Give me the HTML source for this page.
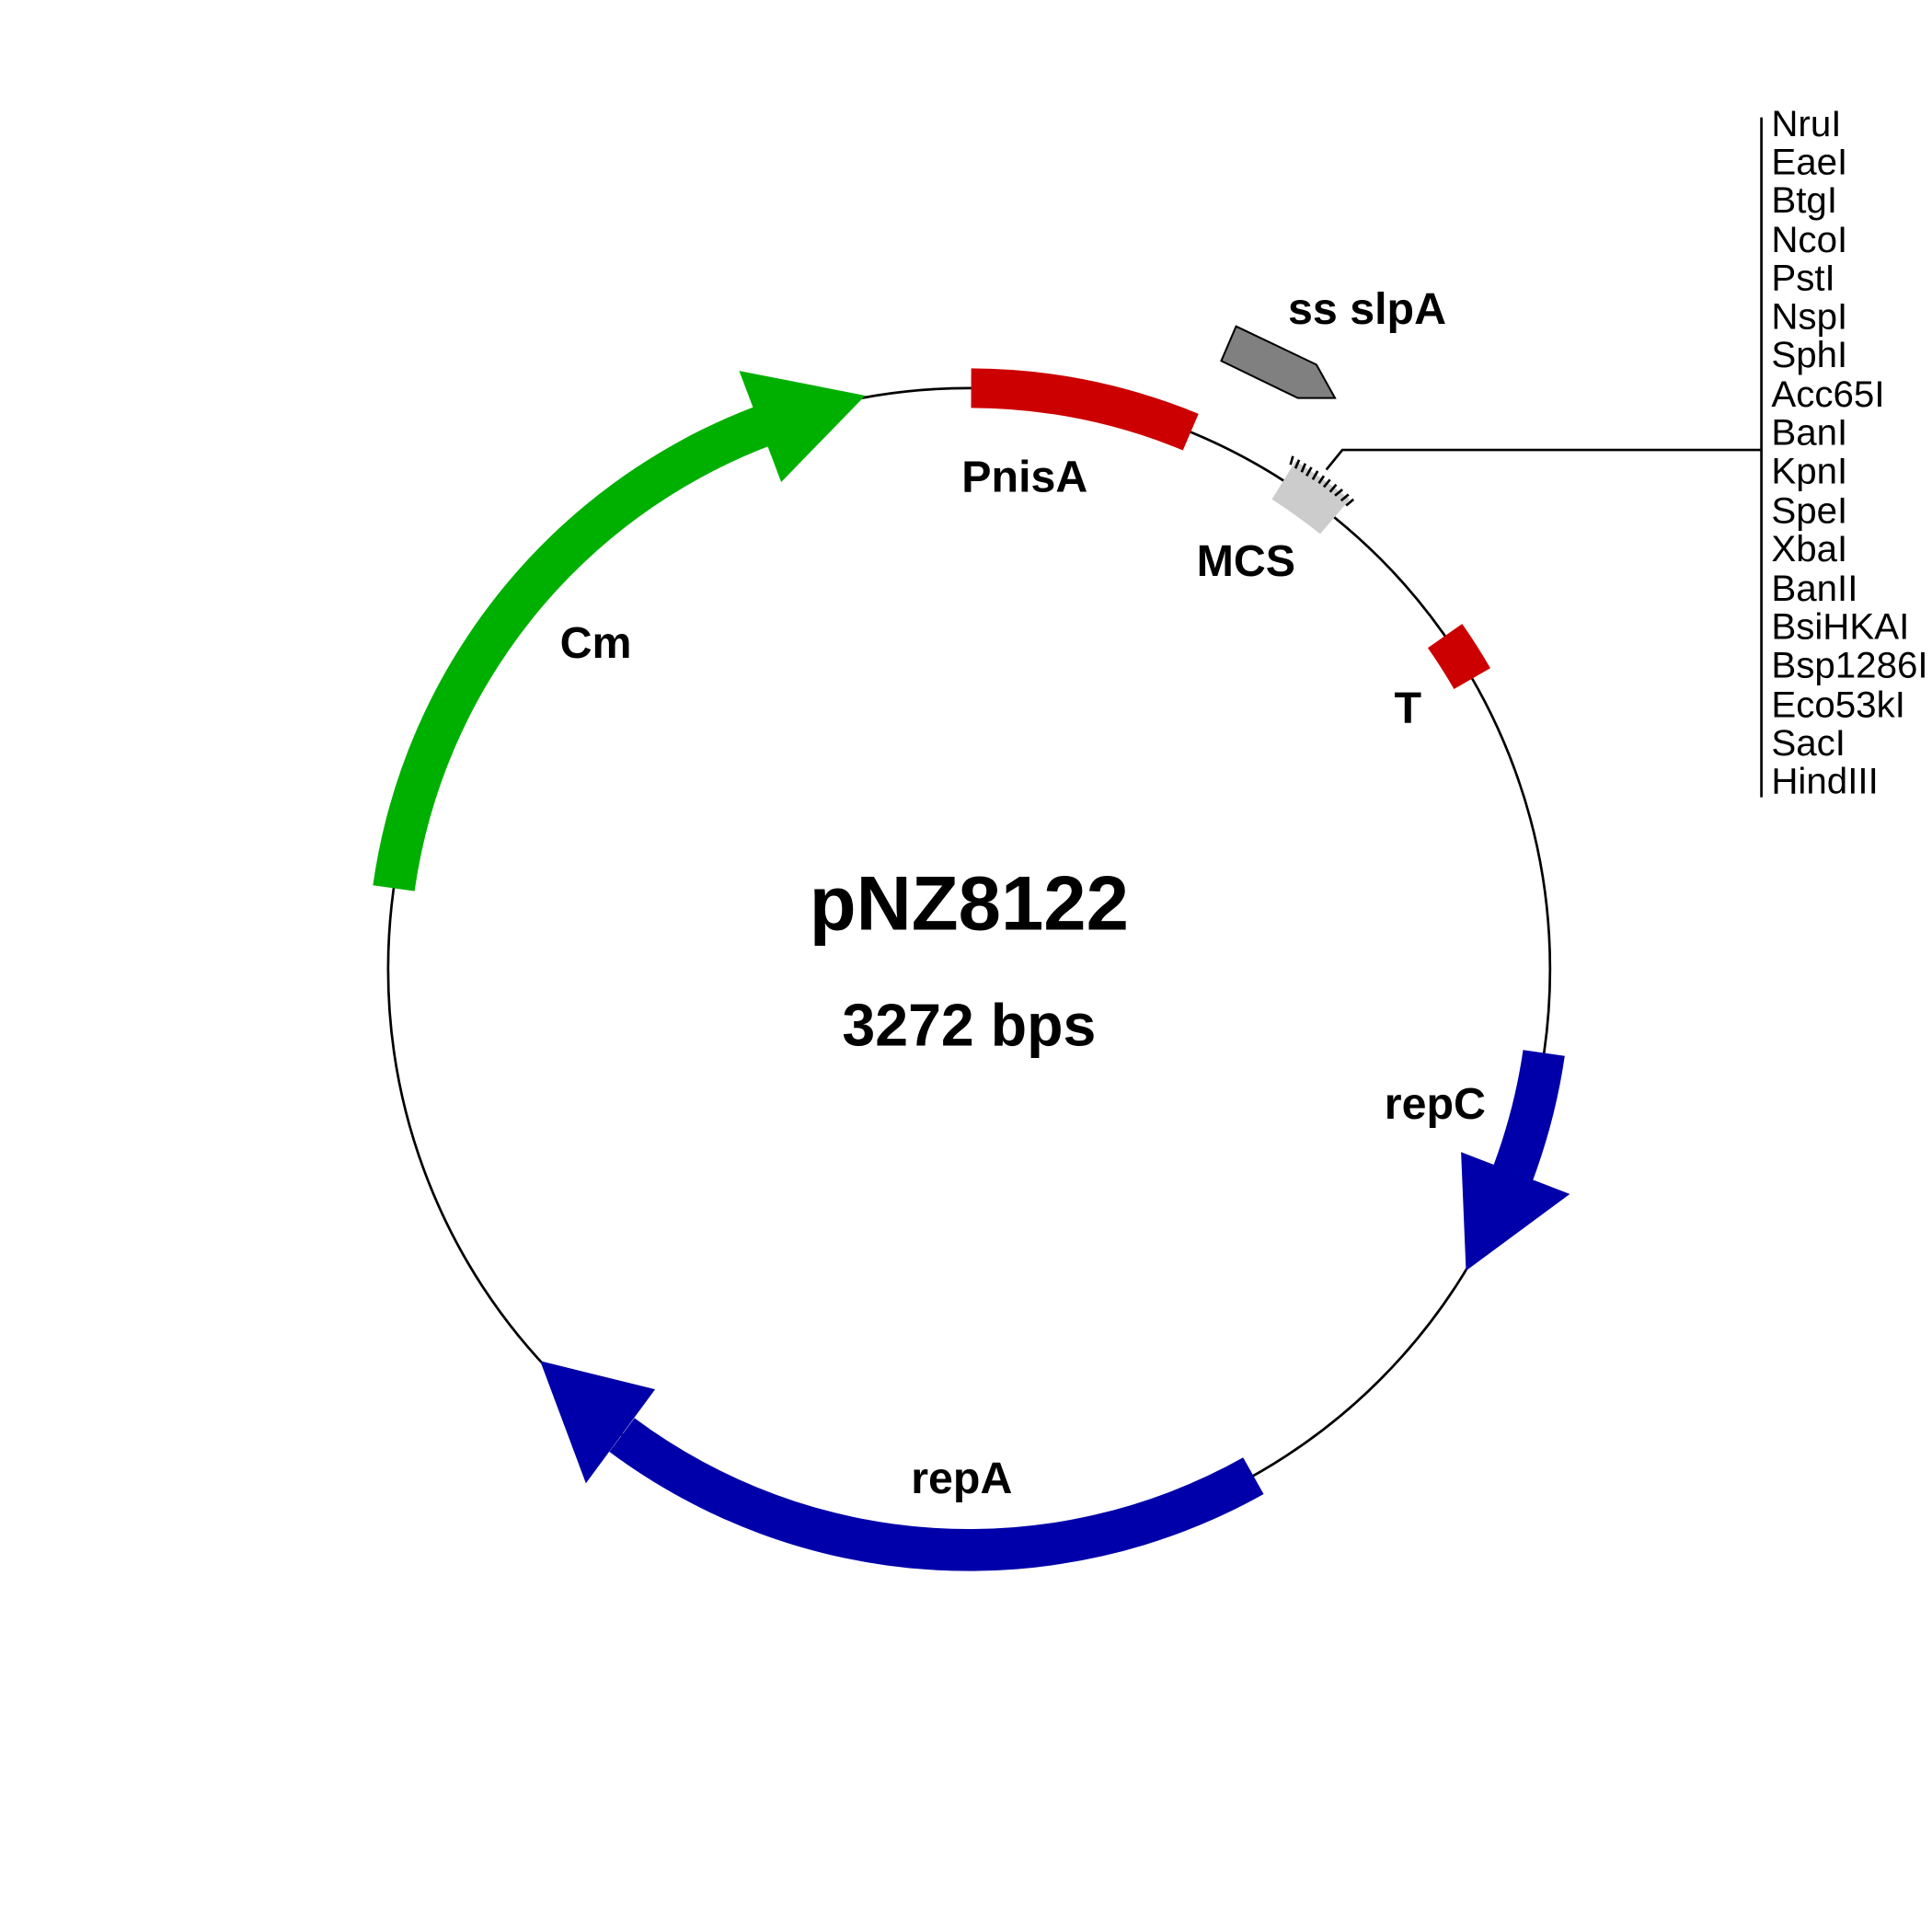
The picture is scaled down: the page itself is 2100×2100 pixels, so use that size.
<!DOCTYPE html>
<html><head><meta charset="utf-8"><style>html,body{margin:0;padding:0;background:#fff}svg{display:block}</style></head>
<body>
<svg width="2100" height="2100" viewBox="0 0 1563 1563" xmlns="http://www.w3.org/2000/svg" font-family="Liberation Sans, Arial, sans-serif">
<rect width="1563" height="1563" fill="#fff"/>
<circle cx="784" cy="784" r="470" fill="none" stroke="#000" stroke-width="2"/>
<!-- Cm -->
<path d="M301.7,716.2 A487,487 0 0 1 609.5,329.3 L621.6,361.1 A453,453 0 0 0 335.4,720.9 Z" fill="#00b000"/>
<polygon points="598,300 700,320 632,390" fill="#00b000"/>
<!-- PnisA -->
<path d="M785.7,298 A486,486 0 0 1 969.6,334.8 L957,364.3 A454,454 0 0 0 785.6,330 Z" fill="#cc0000"/>
<!-- T -->
<path d="M1182.9,504.7 A486,486 0 0 1 1205.7,540.5 L1176.3,557.5 A454,454 0 0 0 1155.1,524.2 Z" fill="#cc0000"/>
<!-- repC -->
<path d="M1265.9,854.3 A487,487 0 0 1 1240.2,954.5 L1208.3,942.6 A453,453 0 0 0 1232.2,849.4 Z" fill="#0000aa"/>
<polygon points="1182,932 1270,966 1186,1028" fill="#0000aa"/>
<!-- repA -->
<path d="M1022.3,1208.7 A487,487 0 0 1 493,1174.5 L513.3,1147.2 A453,453 0 0 0 1005.7,1179.1 Z" fill="#0000aa"/>
<polygon points="474,1200 437,1101 530,1124" fill="#0000aa"/>
<!-- MCS -->
<path d="M1048,373 A490,490 0 0 1 1092,404 L1068,432 A450,450 0 0 0 1029,404 Z" fill="#cccccc"/>
<g stroke="#000" stroke-width="2">
<line x1="1046" y1="369" x2="1044" y2="376"/>
<line x1="1051" y1="372" x2="1048" y2="379"/>
<line x1="1056" y1="375" x2="1053" y2="382"/>
<line x1="1061" y1="378" x2="1057" y2="385"/>
<line x1="1066" y1="381" x2="1062" y2="388"/>
<line x1="1071" y1="385" x2="1067" y2="391"/>
<line x1="1076" y1="388" x2="1071" y2="394"/>
<line x1="1081" y1="392" x2="1076" y2="398"/>
<line x1="1086" y1="396" x2="1080" y2="401"/>
<line x1="1091" y1="400" x2="1085" y2="405"/>
<line x1="1095" y1="404" x2="1089" y2="409"/>
</g>
<polyline points="1073,380 1086,364 1425,364" fill="none" stroke="#000" stroke-width="2"/>
<line x1="1425" y1="95" x2="1425" y2="645" stroke="#000" stroke-width="2"/>
<!-- ss slpA -->
<polygon points="1000,264 1065,295 1080,322 1050,322 988,292" fill="#808080" stroke="#000" stroke-width="1.5"/>
<g font-size="30" fill="#000">
<text x="1433" y="110">NruI</text>
<text x="1433" y="141">EaeI</text>
<text x="1433" y="172">BtgI</text>
<text x="1433" y="204">NcoI</text>
<text x="1433" y="235">PstI</text>
<text x="1433" y="266">NspI</text>
<text x="1433" y="297">SphI</text>
<text x="1433" y="329">Acc65I</text>
<text x="1433" y="360">BanI</text>
<text x="1433" y="391">KpnI</text>
<text x="1433" y="423">SpeI</text>
<text x="1433" y="454">XbaI</text>
<text x="1433" y="486">BanII</text>
<text x="1433" y="517">BsiHKAI</text>
<text x="1433" y="548">Bsp1286I</text>
<text x="1433" y="580">Eco53kI</text>
<text x="1433" y="611">SacI</text>
<text x="1433" y="642">HindIII</text>
</g>
<g font-size="36" font-weight="bold" fill="#000">
<text x="453" y="532">Cm</text>
<text x="778" y="398">PnisA</text>
<text x="968" y="466">MCS</text>
<text x="1042" y="262">ss slpA</text>
<text x="1128" y="585">T</text>
<text x="1120" y="905">repC</text>
<text x="737" y="1208">repA</text>
</g>
<text x="784" y="752" font-size="62" font-weight="bold" text-anchor="middle">pNZ8122</text>
<text x="784" y="846" font-size="48" font-weight="bold" text-anchor="middle">3272 bps</text>
</svg>
</body></html>
